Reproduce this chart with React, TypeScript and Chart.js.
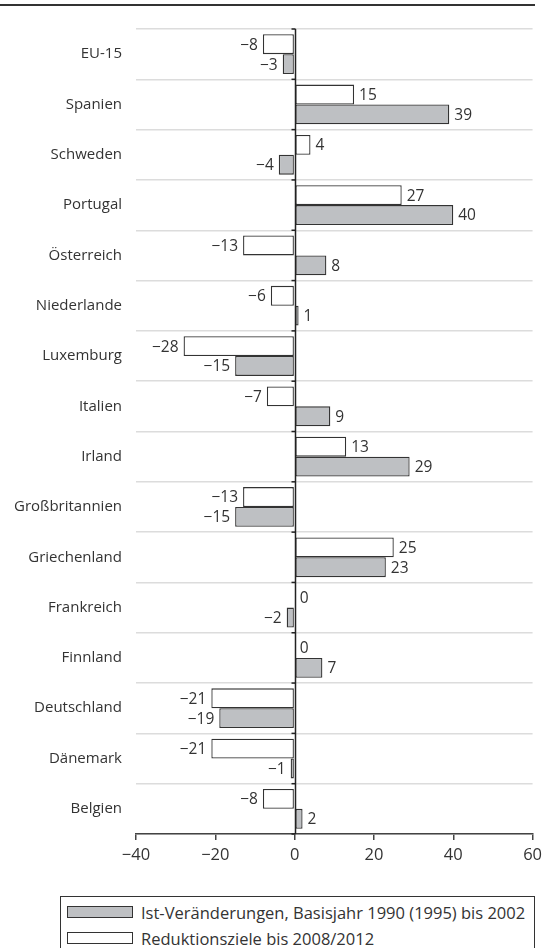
import React, { useEffect, useRef } from "react";
import { Chart, registerables } from "chart.js";

Chart.register(...registerables);

const categories = [
  "EU-15", "Spanien", "Schweden", "Portugal", "Österreich", "Niederlande",
  "Luxemburg", "Italien", "Irland", "Großbritannien", "Griechenland",
  "Frankreich", "Finnland", "Deutschland", "Dänemark", "Belgien",
];
const zielWerte = [-8, 15, 4, 27, -13, -6, -28, -7, 13, -13, 25, 0, 0, -21, -21, -8];
const istWerte = [-3, 39, -4, 40, 8, 1, -15, 9, 29, -15, 23, -2, 7, -19, -1, 2];
const xTicks = [-40, -20, 0, 20, 40, 60];
const legendIst = "Ist-Veränderungen, Basisjahr 1990 (1995) bis 2002";
const legendZiel = "Reduktionsziele bis 2008/2012";

const FONT = "'Open Sans', 'DejaVu Sans', sans-serif";
const TEXT = "#333333";
const GRAY = "#bec0c3";

const fmt = (v: number) => (v < 0 ? "\u2212" + Math.abs(v) : String(v));

const decorPlugin = {
  id: "decor",
  beforeDraw(chart: any) {
    const ctx = chart.ctx;
    ctx.save();
    ctx.strokeStyle = "#333";
    ctx.lineWidth = 2;
    ctx.beginPath();
    ctx.moveTo(0, 5);
    ctx.lineTo(535, 5);
    ctx.stroke();
    ctx.restore();
  },
  afterDatasetsDraw(chart: any) {
    const ctx = chart.ctx;
    const area = chart.chartArea;
    const xs = chart.scales.x;
    const x0 = Math.round(xs.getPixelForValue(0)) + 0.5;
    ctx.save();
    ctx.strokeStyle = "#222";
    ctx.lineWidth = 1.5;
    ctx.beginPath();
    ctx.moveTo(x0, area.top);
    ctx.lineTo(x0, area.bottom);
    ctx.stroke();
    const n = categories.length;
    const step = (area.bottom - area.top) / n;
    for (let i = 0; i <= n; i++) {
      const y = area.top + i * step;
      ctx.beginPath();
      ctx.moveTo(x0 - 4, y);
      ctx.lineTo(x0, y);
      ctx.stroke();
    }
    ctx.font = "15.5px " + FONT;
    ctx.fillStyle = TEXT;
    ctx.textBaseline = "middle";
    chart.data.datasets.forEach((ds: any, di: number) => {
      const meta = chart.getDatasetMeta(di);
      meta.data.forEach((el: any, i: number) => {
        const v = ds.data[i];
        if (v >= 0) {
          ctx.textAlign = "left";
          ctx.fillText(fmt(v), Math.max(el.x, el.base) + 5, el.y + 1);
        } else {
          ctx.textAlign = "right";
          ctx.fillText(fmt(v), el.x - 5, el.y + 1);
        }
      });
    });
    ctx.restore();
  },
};

export default function App() {
  const ref = useRef<HTMLCanvasElement>(null);
  useEffect(() => {
    if (!ref.current) return;
    const chart = new Chart(ref.current, {
      type: "bar",
      data: {
        labels: categories,
        datasets: [
          {
            label: legendZiel,
            data: zielWerte,
            backgroundColor: "#ffffff",
            borderColor: "#333",
            borderWidth: 1.3,
            borderSkipped: false,
            categoryPercentage: 0.79,
            barPercentage: 1,
          },
          {
            label: legendIst,
            data: istWerte,
            backgroundColor: GRAY,
            borderColor: "#333",
            borderWidth: 1.3,
            borderSkipped: false,
            categoryPercentage: 0.79,
            barPercentage: 1,
          },
        ],
      },
      options: {
        indexAxis: "y",
        responsive: false,
        animation: false,
        layout: { padding: { left: 0, right: 14, top: 29, bottom: 0 } },
        plugins: { legend: { display: false }, tooltip: { enabled: false } },
        scales: {
          x: {
            min: -40,
            max: 60,
            afterBuildTicks: (s: any) => {
              s.ticks = xTicks.map((v) => ({ value: v }));
            },
            afterFit: (s: any) => {
              s.height = 46;
            },
            grid: {
              drawOnChartArea: false,
              drawTicks: true,
              tickLength: 6,
              color: "#444",
              lineWidth: 1.5,
            },
            border: { display: true, color: "#444", width: 1.5 },
            ticks: {
              padding: 5,
              color: TEXT,
              font: { family: FONT, size: 16.5 },
              callback: (v: any) => fmt(Number(v)),
            },
          },
          y: {
            afterFit: (s: any) => {
              s.width = 136;
            },
            grid: {
              offset: true,
              drawTicks: false,
              color: "#dcdcdc",
              lineWidth: 1.5,
            },
            border: { display: false },
            ticks: {
              padding: 14,
              color: TEXT,
              font: { family: FONT, size: 15 },
            },
          },
        },
      },
      plugins: [decorPlugin],
    } as any);
    return () => chart.destroy();
  }, []);

  const itemStyle: React.CSSProperties = {
    position: "absolute",
    display: "flex",
    alignItems: "center",
    fontFamily: FONT,
    fontSize: 16.5,
    color: TEXT,
    whiteSpace: "nowrap",
    height: 22,
  };
  const swatch = (bg: string): React.CSSProperties => ({
    width: 66,
    height: 12,
    background: bg,
    border: "1.3px solid #333",
    marginRight: 8,
    boxSizing: "border-box",
  });

  return (
    <div style={{ position: "absolute", left: 0, top: 0, width: 547, height: 948, overflow: "hidden", background: "#fff" }}>
      <canvas ref={ref} width={547} height={880} style={{ position: "absolute", left: 0, top: 0 }} />
      <div
        style={{
          position: "absolute",
          left: 60,
          top: 896,
          width: 475,
          height: 70,
          border: "1.5px solid #333",
          boxSizing: "border-box",
        }}
      >
        <div style={{ ...itemStyle, top: 4, left: 6 }}>
          <div style={swatch(GRAY)} />
          <span>{legendIst}</span>
        </div>
        <div style={{ ...itemStyle, top: 30, left: 6 }}>
          <div style={swatch("#ffffff")} />
          <span>{legendZiel}</span>
        </div>
      </div>
    </div>
  );
}
